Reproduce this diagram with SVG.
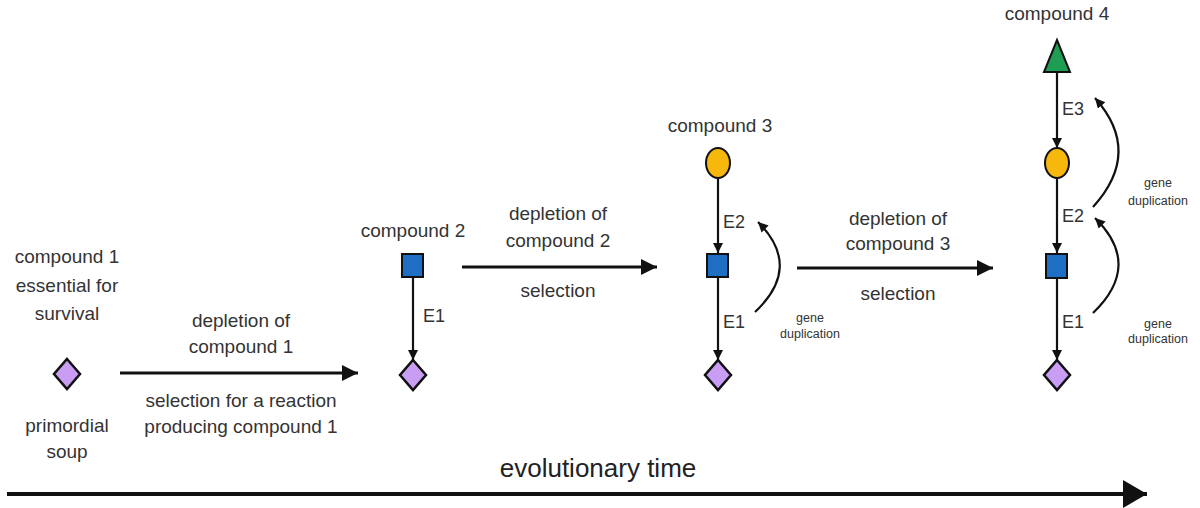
<svg xmlns="http://www.w3.org/2000/svg" width="1200" height="508" viewBox="0 0 1200 508">
<defs>
<style>
text{font-family:"Liberation Sans",Arial,sans-serif;fill:#333;}
.t{font-size:19px;text-anchor:middle;}
.e{font-size:18px;}
.g{font-size:12.5px;text-anchor:middle;}
.big{font-size:26px;text-anchor:middle;fill:#222;}
.dia{fill:#c99df3;stroke:#111;stroke-width:2.5;}
.sq{fill:#1e6ec4;stroke:#111;stroke-width:2;}
.ci{fill:#f6b80c;stroke:#111;stroke-width:2;}
.tri{fill:#1f9d55;stroke:#111;stroke-width:2;}
.v{stroke:#111;stroke-width:2.2;fill:none;}
.h{stroke:#111;stroke-width:3;fill:none;}
.c{stroke:#111;stroke-width:2.2;fill:none;}
</style>
<marker id="sm" markerUnits="userSpaceOnUse" markerWidth="12" markerHeight="12" refX="10" refY="5" orient="auto"><path d="M0,0 L10,5 L0,10 Z" fill="#111"/></marker>
<marker id="lg" markerUnits="userSpaceOnUse" markerWidth="20" markerHeight="20" refX="16" refY="8" orient="auto"><path d="M0,0 L16,8 L0,16 Z" fill="#111"/></marker>
<marker id="xl" markerUnits="userSpaceOnUse" markerWidth="30" markerHeight="30" refX="24" refY="14" orient="auto"><path d="M0,0 L24,14 L0,28 Z" fill="#111"/></marker>
</defs>
<rect width="1200" height="508" fill="#fff"/>

<g id="connectors">
<line class="h" x1="120" y1="373" x2="358" y2="373" marker-end="url(#lg)"/>
<line class="h" x1="462" y1="267" x2="657" y2="267" marker-end="url(#lg)"/>
<line class="h" x1="797" y1="268" x2="993" y2="268" marker-end="url(#lg)"/>
<line x1="7" y1="494" x2="1147" y2="494" stroke="#111" stroke-width="4" marker-end="url(#xl)"/>
<line class="v" x1="413" y1="277" x2="413" y2="360" marker-end="url(#sm)"/>
<line class="v" x1="718" y1="178" x2="718" y2="253" marker-end="url(#sm)"/>
<line class="v" x1="718" y1="277" x2="718" y2="360" marker-end="url(#sm)"/>
<line class="v" x1="1057" y1="72" x2="1057" y2="148" marker-end="url(#sm)"/>
<line class="v" x1="1057" y1="178" x2="1057" y2="253" marker-end="url(#sm)"/>
<line class="v" x1="1057" y1="278" x2="1057" y2="360" marker-end="url(#sm)"/>
<path class="c" d="M755,312 Q803,267 758,222" marker-end="url(#sm)"/>
<path class="c" d="M1093,313 Q1143,265 1095,218" marker-end="url(#sm)"/>
<path class="c" d="M1093,207 Q1143,152 1095,98" marker-end="url(#sm)"/>
</g>

<g id="node-compound1">
<path class="dia" d="M67,359 L80,374 L67,389 L54,374 Z"/>
<text class="t" x="67" y="263">compound 1</text>
<text class="t" x="67" y="292">essential for</text>
<text class="t" x="67" y="320">survival</text>
<text class="t" x="67" y="432">primordial</text>
<text class="t" x="67" y="458">soup</text>
</g>

<g id="label-step1">
<text class="t" x="241" y="327">depletion of</text>
<text class="t" x="241" y="353">compound 1</text>
<text class="t" x="241" y="407">selection for a reaction</text>
<text class="t" x="241" y="433">producing compound 1</text>
</g>

<g id="node-compound2">
<text class="t" x="413" y="237">compound 2</text>
<rect class="sq" x="402" y="254" width="21" height="23"/>
<text class="e" x="423" y="322">E1</text>
<path class="dia" d="M413,360 L426,375 L413,390 L400,375 Z"/>
</g>

<g id="label-step2">
<text class="t" x="558" y="220">depletion of</text>
<text class="t" x="558" y="247">compound 2</text>
<text class="t" x="558" y="297">selection</text>
</g>

<g id="node-compound3">
<text class="t" x="720" y="132">compound 3</text>
<ellipse class="ci" cx="718" cy="163" rx="12" ry="15"/>
<rect class="sq" x="707" y="254" width="21" height="23"/>
<path class="dia" d="M718,360 L731,375 L718,390 L705,375 Z"/>
<text class="e" x="723" y="228">E2</text>
<text class="e" x="723" y="328">E1</text>
<text class="g" x="810" y="322">gene</text>
<text class="g" x="810" y="338">duplication</text>
</g>

<g id="label-step3">
<text class="t" x="898" y="225">depletion of</text>
<text class="t" x="898" y="250">compound 3</text>
<text class="t" x="898" y="300">selection</text>
</g>

<g id="node-compound4">
<text class="t" x="1057" y="20">compound 4</text>
<path class="tri" d="M1057,40 L1070,72 L1044,72 Z"/>
<ellipse class="ci" cx="1057" cy="163" rx="12" ry="15"/>
<rect class="sq" x="1046" y="254" width="21" height="24"/>
<path class="dia" d="M1057,360 L1070,375 L1057,390 L1044,375 Z"/>
<text class="e" x="1062" y="115">E3</text>
<text class="e" x="1062" y="222">E2</text>
<text class="e" x="1062" y="328">E1</text>
<text class="g" x="1158" y="187">gene</text>
<text class="g" x="1158" y="205">duplication</text>
<text class="g" x="1158" y="328">gene</text>
<text class="g" x="1158" y="343">duplication</text>
</g>

<g id="timeline-label">
<text class="big" x="598" y="477">evolutionary time</text>
</g>
</svg>
